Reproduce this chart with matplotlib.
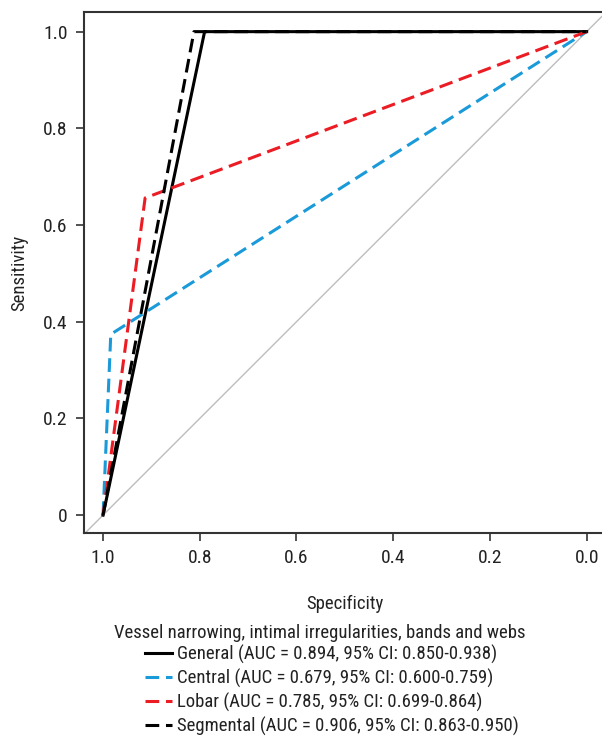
import numpy as np
import matplotlib.pyplot as plt

# ROC points (specificity, sensitivity) for each binary predictor
names = ['General', 'Central', 'Lobar', 'Segmental']
auc_text = ['AUC = 0.894, 95% CI: 0.850-0.938',
            'AUC = 0.679, 95% CI: 0.600-0.759',
            'AUC = 0.785, 95% CI: 0.699-0.864',
            'AUC = 0.906, 95% CI: 0.863-0.950']
spec = [[1.0, 0.790, 0.0],
        [1.0, 0.984, 0.0],
        [1.0, 0.913, 0.0],
        [1.0, 0.812, 0.0]]
sens = [[0.0, 1.0, 1.0],
        [0.0, 0.374, 1.0],
        [0.0, 0.656, 1.0],
        [0.0, 1.0, 1.0]]
colors = ['black', '#1a9ad9', '#ec1c24', 'black']
styles = ['-', (0, (4.5, 2.2)), (0, (4.5, 2.2)), (0, (4.5, 2.2))]

xticks = [1.0, 0.8, 0.6, 0.4, 0.2, 0.0]
yticks = [0, 0.2, 0.4, 0.6, 0.8, 1.0]
ylabels = ['0', '0.2', '0.4', '0.6', '0.8', '1.0']

plt.rcParams['font.family'] = ['Roboto Condensed', 'Open Sans Condensed',
                               'Liberation Sans Narrow', 'DejaVu Sans']
plt.rcParams['font.stretch'] = 'condensed'
plt.rcParams['font.size'] = 13.5

W, H = 602, 738
fig = plt.figure(figsize=(W / 100, H / 100), dpi=100)
ax = fig.add_axes([83.7 / W, 1 - 533 / H, (606 - 83.7) / W, (533 - 12.3) / H])

ax.axline((1, 0), (0, 1), color='#bdbdbd', lw=1, zorder=1)
for i in range(len(names)):
    ax.plot(spec[i], sens[i], color=colors[i], linestyle=styles[i], lw=2.2,
            label=f'{names[i]} ({auc_text[i]})', zorder=2)

ax.set_xlim(1.04, -0.04)
ax.set_ylim(-0.037, 1.04)
ax.set_xticks(xticks)
ax.set_xticklabels([f'{t:.1f}' for t in xticks])
ax.set_yticks(yticks)
ax.set_yticklabels(ylabels)
ax.tick_params(length=5.6, width=1.2, color='#333333', pad=6, labelsize=14,
               labelcolor='#222222')
for s in ax.spines.values():
    s.set_color('#333333')
    s.set_linewidth(1.5)

ax.set_xlabel('Specificity', labelpad=20, color='#222222')
ax.set_ylabel('Sensitivity', labelpad=11, color='#222222')

fig.text(320 / W, 1 - 633 / H, 'Vessel narrowing, intimal irregularities, bands and webs',
         ha='center', va='center', color='#222222')
leg = ax.legend(loc='upper left', bbox_to_anchor=(145 / W, 1 - 645 / H),
                bbox_transform=fig.transFigure, frameon=False, borderpad=0,
                borderaxespad=0, handlelength=1.45, handletextpad=0.28,
                labelspacing=0.25)
for t in leg.get_texts():
    t.set_color('#222222')

plt.savefig('out.png', dpi=100)
